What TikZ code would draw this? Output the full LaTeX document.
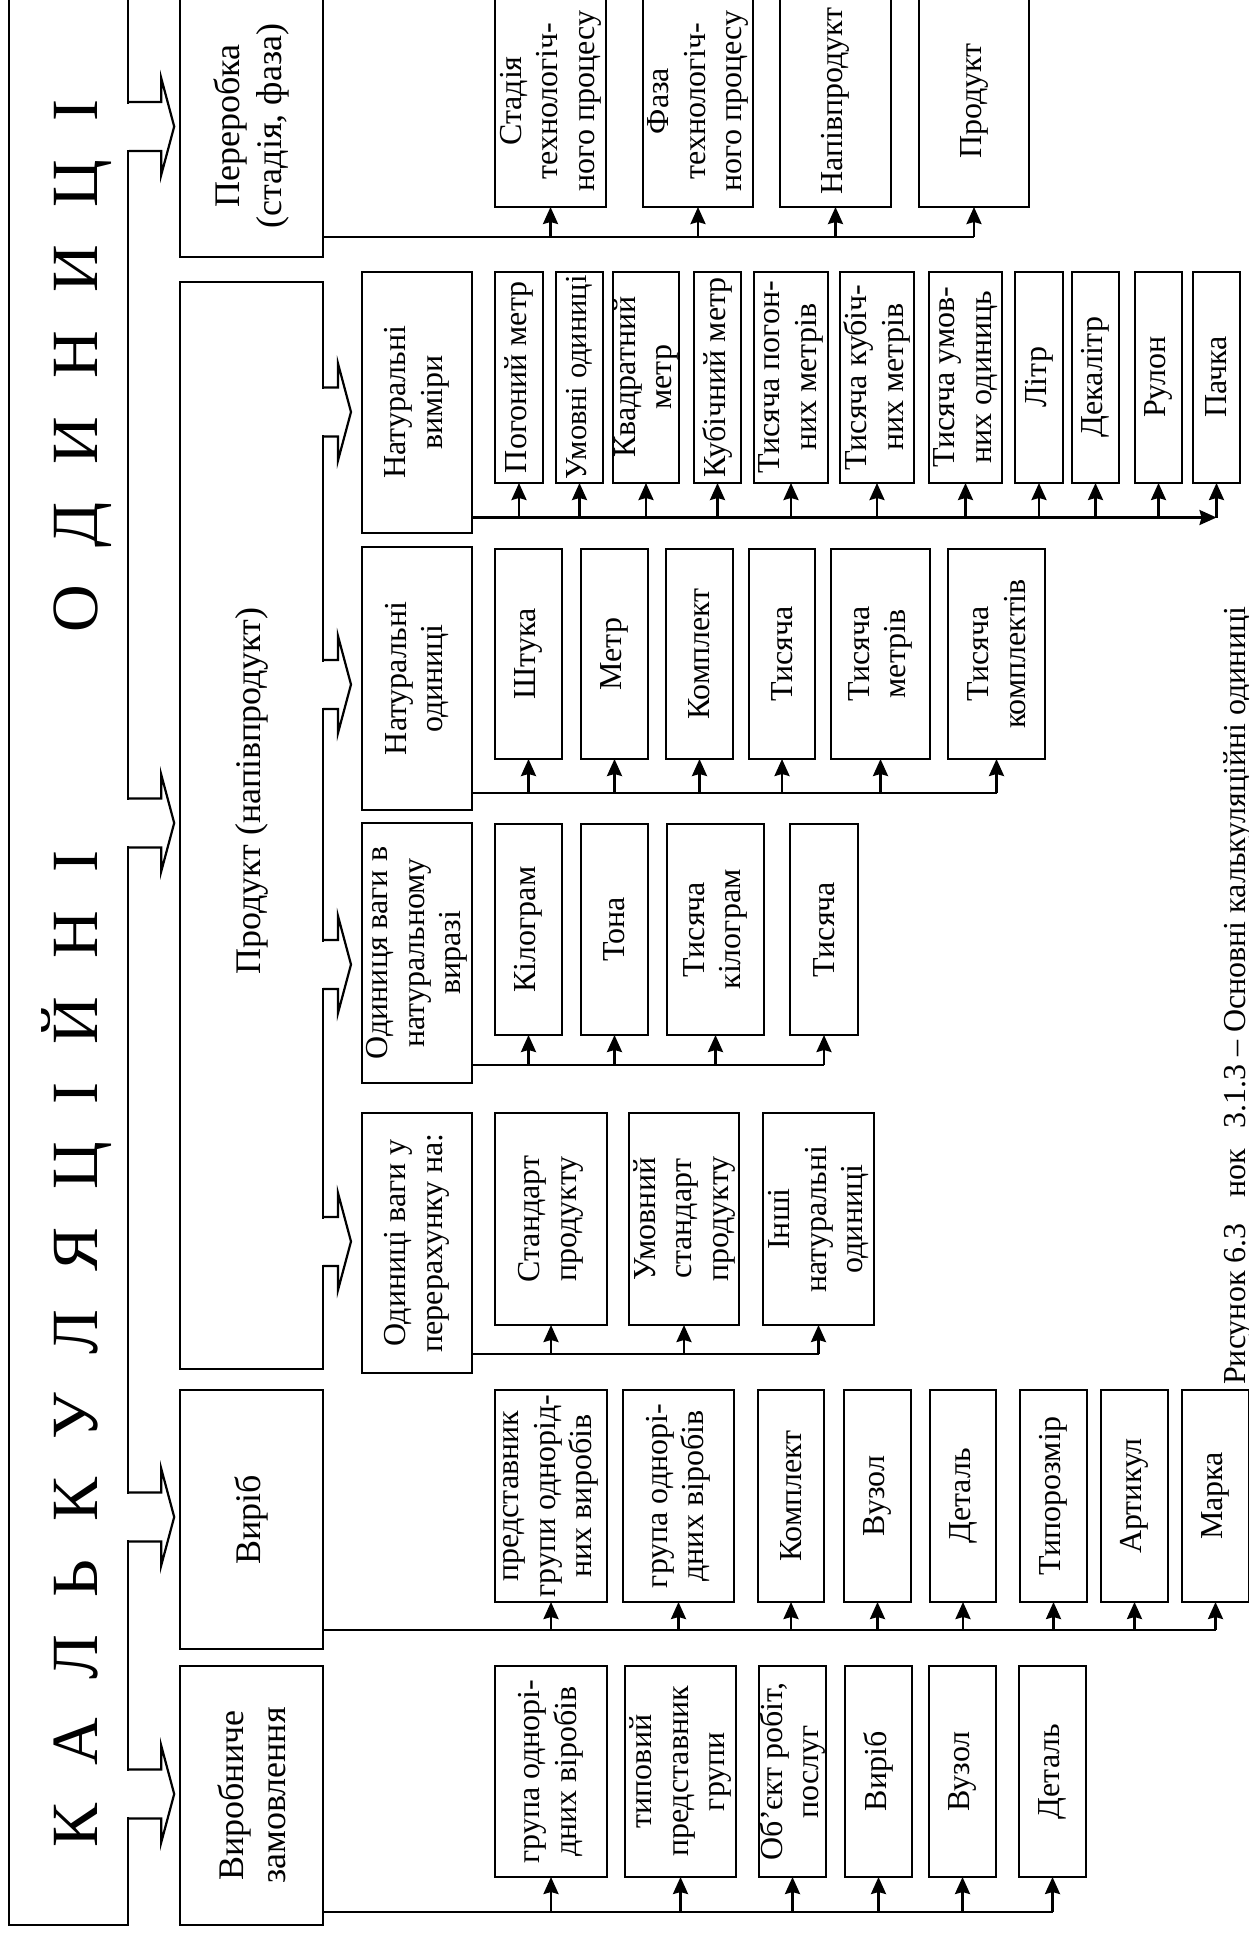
\documentclass[tikz,border=0pt]{standalone}
\usepackage{fontspec}
\setmainfont{Liberation Serif}
\usetikzlibrary{arrows.meta,calc}
\newcommand\leaffnt{\fontsize{32}{36.5}\selectfont}
\newcommand\catfnt{\fontsize{36}{42}\selectfont}
\newcommand\titlefnt{\fontsize{66}{72}\selectfont}
\newcommand\capfnt{\fontsize{32}{38}\selectfont}
\newcommand\lsp{\hspace{38pt}}
% #1 style, #2 name, #3 x1, #4 y1, #5 x2, #6 y2, #7 text (image pixel box)
\newcommand\rbox[7]{\node[#1, minimum width={((#6)-(#4))*1pt}, minimum height={((#5)-(#3))*1pt}] (#2) at ({((#3)+(#5))/2},{((#4)+(#6))/2}) {#7};}
% hollow arrow: #1 source node, #2 centre y, #3 shaft length
\newcommand\harrow[3]{%
  \coordinate (hc) at (0,#2);
  \fill[white] ($(#1.south |- hc)+(-2.5,-23)$) rectangle ($(#1.south |- hc)+(2.5,23)$);
  \draw[hollow] ($(#1.south |- hc)+(0,-24.5)$) -- ++(#3,0) -- ++(0,-24)
     -- ($(#1.south |- hc)+({#3+13},0)$) -- ($(#1.south |- hc)+(#3,48.5)$)
     -- ++(0,-24) -- ++({-#3},0);}
\tikzset{
  bx/.style={draw, line width=2pt, rotate=90, inner sep=0pt, outer sep=0pt, align=center},
  leaf/.style={bx, font=\leaffnt},
  cat/.style={bx, font=\catfnt},
  conn/.style={line width=2.4pt},
  arr/.style={line width=2.4pt, -{Stealth[length=17pt,width=15pt,inset=2pt]}},
  hollow/.style={line width=2.2pt, line join=miter},
}
\begin{document}
\begin{tikzpicture}[x=1pt,y=-1pt]
\useasboundingbox (0,0) rectangle (1248,1933);
% title frame and title
\node[draw, line width=2.4pt, rotate=90, inner sep=0pt, minimum width=1950pt, minimum height=119pt] (tframe) at (68.5,950) {};
\node[rotate=90, anchor=base, inner sep=0pt, font=\titlefnt] (title) at (97,973.5)
  {К\lsp А\lsp Л\lsp Ь\lsp К\lsp У\lsp Л\lsp Я\lsp Ц\lsp І\lsp Й\lsp Н\lsp І\hspace{218pt}О\lsp Д\lsp И\lsp Н\lsp И\lsp Ц\lsp І};
% categories
\rbox{cat}{pere}{180}{-5}{323}{257}{Переробка\\(стадія, фаза)}
\rbox{cat}{prod}{180}{282}{323}{1369}{\hspace*{69pt}Продукт (напівпродукт)}
\rbox{cat}{vyrib}{180}{1390}{323}{1649}{Виріб}
\rbox{cat}{zamov}{180}{1666}{323}{1925}{Виробниче\\замовлення}
% hollow arrows from title
\harrow{tframe}{126.5}{32}
\harrow{tframe}{823}{32}
\harrow{tframe}{1517}{32}
\harrow{tframe}{1794}{32}
% sub-categories of product
\rbox{leaf}{vym}{362}{271.5}{472}{533}{Натуральні\\виміри}
\rbox{leaf}{nod}{362}{547}{472}{810}{Натуральні\\одиниці}
\rbox{leaf}{vnat}{362}{823}{472}{1083}{Одиниця ваги в\\натуральному\\виразі}
\rbox{leaf}{vper}{362}{1113}{472}{1373}{Одиниці ваги у\\перерахунку на:}
\harrow{prod}{412}{15}
\harrow{prod}{684.5}{15}
\harrow{prod}{964.5}{15}
\harrow{prod}{1241.5}{15}
% leaves: pererobka
\rbox{leaf}{p1}{495}{-5}{606}{207}{Стадія\\технологіч-\\ного процесу}
\rbox{leaf}{p2}{643}{-5}{753}{207}{Фаза\\технологіч-\\ного процесу}
\rbox{leaf}{p3}{780}{-5}{891}{207}{Напівпродукт}
\rbox{leaf}{p4}{919}{-5}{1029}{207}{Продукт}
% leaves: natural measures
\rbox{leaf}{v1}{495}{271.5}{543}{483}{Погоний метр}
\rbox{leaf}{v2}{556}{271.5}{603}{483}{\fontsize{30.5}{36}\selectfont Умовні одиниці}
\rbox{leaf}{v3}{613}{271.5}{679}{483}{Квадратний\\метр}
\rbox{leaf}{v4}{694}{271.5}{741}{483}{Кубічний метр}
\rbox{leaf}{v5}{754}{271.5}{828}{483}{Тисяча погон-\\них метрів}
\rbox{leaf}{v6}{840}{271.5}{914}{483}{Тисяча кубіч-\\них метрів}
\rbox{leaf}{v7}{929}{271.5}{1002}{483}{Тисяча умов-\\них одиниць}
\rbox{leaf}{v8}{1015}{271.5}{1063}{483}{Літр}
\rbox{leaf}{v9}{1072}{271.5}{1119}{483}{Декалітр}
\rbox{leaf}{v10}{1135}{271.5}{1182}{483}{Рулон}
\rbox{leaf}{v11}{1193}{271.5}{1240}{483}{Пачка}
% leaves: natural units
\rbox{leaf}{u1}{495}{549}{562}{759}{Штука}
\rbox{leaf}{u2}{581}{549}{648}{759}{Метр}
\rbox{leaf}{u3}{666}{549}{733}{759}{Комплект}
\rbox{leaf}{u4}{749}{549}{815}{759}{Тисяча}
\rbox{leaf}{u5}{831}{549}{930}{759}{Тисяча\\метрів}
\rbox{leaf}{u6}{948}{549}{1045}{759}{Тисяча\\комплектів}
% leaves: weight in natural terms
\rbox{leaf}{w1}{495}{824}{562}{1035}{Кілограм}
\rbox{leaf}{w2}{581}{824}{648}{1035}{Тона}
\rbox{leaf}{w3}{667}{824}{764}{1035}{Тисяча\\кілограм}
\rbox{leaf}{w4}{790}{824}{858}{1035}{Тисяча}
% leaves: weight recalculated
\rbox{leaf}{r1}{495}{1113}{607}{1325}{Стандарт\\продукту}
\rbox{leaf}{r2}{629}{1113}{739}{1325}{Умовний\\стандарт\\продукту}
\rbox{leaf}{r3}{763}{1113}{874}{1325}{Інші\\натуральні\\одиниці}
% leaves: vyrib
\rbox{leaf}{b1}{495}{1390}{607}{1602}{представник\\групи однорід-\\них виробів}
\rbox{leaf}{b2}{623}{1390}{734}{1602}{група однорі-\\дних віробів}
\rbox{leaf}{b3}{758}{1390}{824}{1602}{Комплект}
\rbox{leaf}{b4}{844}{1390}{911}{1602}{Вузол}
\rbox{leaf}{b5}{930}{1390}{996}{1602}{Деталь}
\rbox{leaf}{b6}{1020}{1390}{1087}{1602}{Типорозмір}
\rbox{leaf}{b7}{1101}{1390}{1168}{1602}{Артикул}
\rbox{leaf}{b8}{1182}{1390}{1249}{1602}{Марка}
% leaves: production order
\rbox{leaf}{z1}{495}{1666}{607}{1877}{група однорі-\\дних віробів}
\rbox{leaf}{z2}{625}{1666}{736}{1877}{типовий\\представник\\групи}
\rbox{leaf}{z3}{759}{1666}{826}{1877}{Об’єкт робіт,\\послуг}
\rbox{leaf}{z4}{845}{1666}{912}{1877}{Виріб}
\rbox{leaf}{z5}{929}{1666}{996}{1877}{Вузол}
\rbox{leaf}{z6}{1019}{1666}{1086}{1877}{Деталь}
% row lines
\coordinate (rP) at (0,237);
\coordinate (rV) at (0,517.5);
\coordinate (rU) at (0,793);
\coordinate (rW) at (0,1065);
\coordinate (rR) at (0,1354);
\coordinate (rB) at (0,1630);
\coordinate (rZ) at (0,1912);
\draw[conn] (pere.south |- rP) -- (p4.west |- rP);
\foreach \n in {p1,p2,p3,p4} \draw[arr] (\n.west |- rP) -- (\n.west);
\draw[arr] (vym.south |- rV) -- (v11.west |- rV);
\foreach \n in {v1,v2,v3,v4,v5,v6,v7,v8,v9,v10,v11} \draw[arr] (\n.west |- rV) -- (\n.west);
\draw[conn] (nod.south |- rU) -- (u6.west |- rU);
\foreach \n in {u1,u2,u3,u4,u5,u6} \draw[arr] (\n.west |- rU) -- (\n.west);
\draw[conn] (vnat.south |- rW) -- (w4.west |- rW);
\foreach \n in {w1,w2,w3,w4} \draw[arr] (\n.west |- rW) -- (\n.west);
\draw[conn] (vper.south |- rR) -- (r3.west |- rR);
\foreach \n in {r1,r2,r3} \draw[arr] (\n.west |- rR) -- (\n.west);
\draw[conn] (vyrib.south |- rB) -- (b8.west |- rB);
\foreach \n in {b1,b2,b3,b4,b5,b6,b7,b8} \draw[arr] (\n.west |- rB) -- (\n.west);
\draw[conn] (zamov.south |- rZ) -- (z6.west |- rZ);
\foreach \n in {z1,z2,z3,z4,z5,z6} \draw[arr] (\n.west |- rZ) -- (\n.west);
% caption
\node[rotate=90, anchor=base west, inner sep=0pt, font=\capfnt] (cap) at (1245,1385)
  {Рисунок 6.3\hspace{26pt}нок\hspace{20pt}3.1.3 – Основні калькуляційні одиниці};
\end{tikzpicture}
\end{document}
